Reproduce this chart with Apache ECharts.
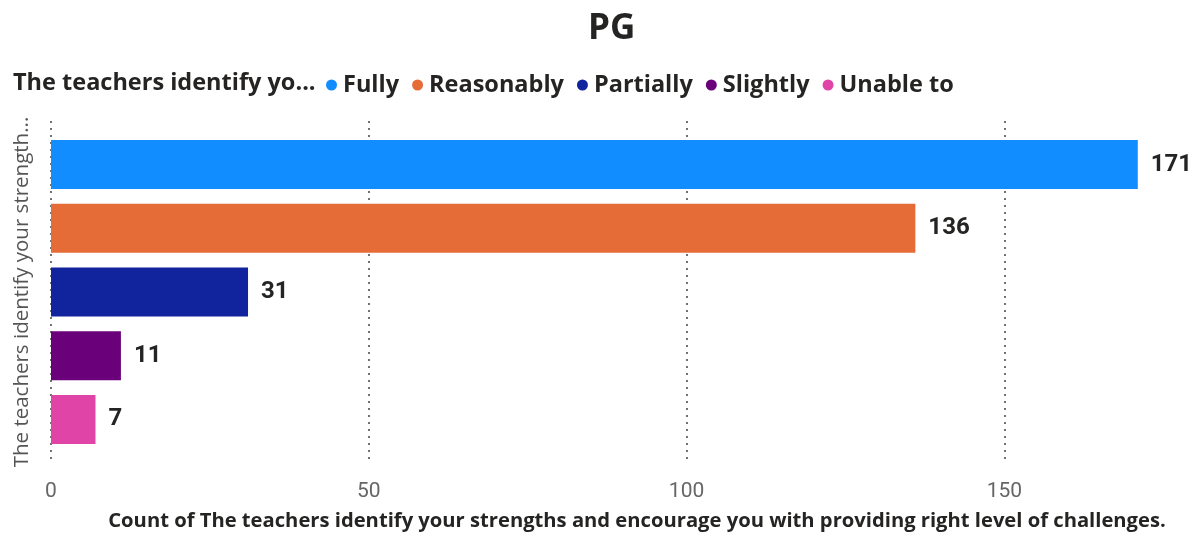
<!DOCTYPE html>
<html><head><meta charset="utf-8">
<script src="https://cdn.jsdelivr.net/npm/echarts@6/dist/echarts.min.js"></script>
<style>html,body{margin:0;padding:0;background:#fff}#c{width:1200px;height:536px}</style>
</head><body><div id="c"></div>
<script>
const chartTitle = 'PG';
const legendTitle = 'The teachers identify yo...';
const categories = ['The teachers identify your strengths and encourage you with providing right level of challenges.'];
const seriesNames = ['Fully', 'Reasonably', 'Partially', 'Slightly', 'Unable to'];
const seriesValues = [171, 136, 31, 11, 7];
const seriesColors = ['#118DFF', '#E66C37', '#12239E', '#6B007B', '#E044A7'];
const axisTitle = 'Count of The teachers identify your strengths and encourage you with providing right level of challenges.';

const font = 'Open Sans';
const chart = echarts.init(document.getElementById('c'), null, {renderer: 'canvas'});
chart.setOption({
  animation: false,
  title: [
    {text: chartTitle, left: 583, top: 7, textStyle: {fontFamily: font, fontSize: 35, fontWeight: 'bold', color: '#252423'}},
    {text: legendTitle, left: 8, top: 66, textStyle: {fontFamily: font, fontSize: 23.5, fontWeight: 'bold', color: '#252423'}}
  ],
  legend: {
    left: 321, top: 68, icon: 'circle', itemWidth: 11, itemHeight: 11, itemGap: 13,
    textStyle: {fontFamily: font, fontSize: 23.5, fontWeight: 'bold', color: '#252423', padding: [0, 0, 0, 1]},
    data: seriesNames
  },
  grid: {left: 51, right: 5, top: 121, bottom: 60, containLabel: false},
  xAxis: {
    type: 'value', min: 0, max: 180, interval: 50,
    axisLine: {show: false}, axisTick: {show: false},
    axisLabel: {showMaxLabel: false, fontFamily: 'Roboto', fontSize: 21, color: '#666666', margin: 18},
    splitLine: {show: true, showMinLine: true, showMaxLine: false, lineStyle: {type: [2, 5], color: '#444', width: 1.5}},
    name: axisTitle, nameLocation: 'middle', nameGap: 48,
    nameTextStyle: {fontFamily: font, fontSize: 20.2, fontWeight: 'bold', color: '#252423', padding: [0, 0, 0, 28]}
  },
  yAxis: {
    type: 'category', inverse: true, data: categories,
    axisLine: {show: false}, axisTick: {show: false},
    axisLabel: {rotate: 90, margin: 18, fontFamily: font, fontSize: 20.5, color: '#555555',
      formatter: v => v.length > 35 ? v.slice(0, 35) + '...' : v}
  },
  series: seriesNames.map((n, i) => ({
    name: n, type: 'bar', data: [seriesValues[i]], barWidth: 49, barGap: '30%',
    itemStyle: {color: seriesColors[i]},
    label: {show: true, position: 'right', distance: 13, fontFamily: 'Roboto', fontSize: 24, fontWeight: 'bold', color: '#252423'}
  }))
});
</script></body></html>
